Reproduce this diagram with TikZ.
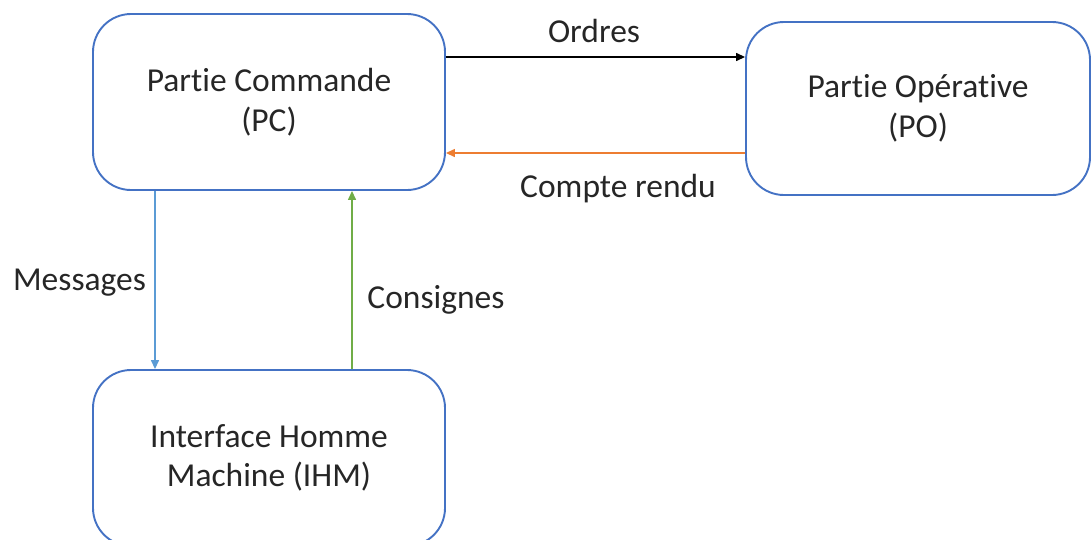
\documentclass[tikz,border=0pt]{standalone}
\usepackage{fontspec}
\setmainfont{Carlito}[RawFeature={-liga}]
\usetikzlibrary{arrows.meta}
\definecolor{boxblue}{HTML}{4472C4}
\definecolor{msgblue}{HTML}{5B9BD5}
\definecolor{cnsgreen}{HTML}{70AD47}
\definecolor{crorange}{HTML}{ED7D31}
\definecolor{txtgray}{HTML}{262626}
\tikzset{
  bloc/.style={draw=boxblue, line width=1.9pt, rounded corners=38pt,
    align=center, text=txtgray, inner sep=0pt},
  lbl/.style={text=txtgray, inner sep=0pt},
  flow/.style={line width=1.4pt, -{Triangle[length=9pt,width=8pt]}},
}
\begin{document}
\begin{tikzpicture}[x=1pt, y=-1pt, font=\fontsize{33.5}{39.5}\selectfont]
\useasboundingbox (0,0) rectangle (1091,539);
\clip (0,0) rectangle (1091,539);
% operating blocks
\node[bloc, minimum width=352pt, minimum height=176pt] (pc) at (269,102)
  {Partie Commande\\(PC)};
\node[bloc, minimum width=344pt, minimum height=173pt] (po) at (918,108.5)
  {Partie Opérative\\(PO)};
\node[bloc, minimum width=352pt, minimum height=176pt] (ihm) at (269,458)
  {Interface Homme\\Machine (IHM)};
% flow labels
\node[lbl] (lordres) at (594,31) {Ordres};
\node[lbl] (lcr) at (618,189) {Compte rendu};
\node[lbl] (lmsg) at (79.5,283) {Messages};
\node[lbl] (lcons) at (436,300) {Consignes};
% flows between blocks
\draw[flow, black] (pc.east |- 0,57) -- (po.west |- 0,57);
\draw[flow, crorange] (po.west |- 0,153) -- (pc.east |- 0,153);
\draw[flow, msgblue] (pc.south -| 155,0) -- (ihm.north -| 155,0);
\draw[flow, cnsgreen] (ihm.north -| 352,0) -- (pc.south -| 352,0);
\end{tikzpicture}
\end{document}
